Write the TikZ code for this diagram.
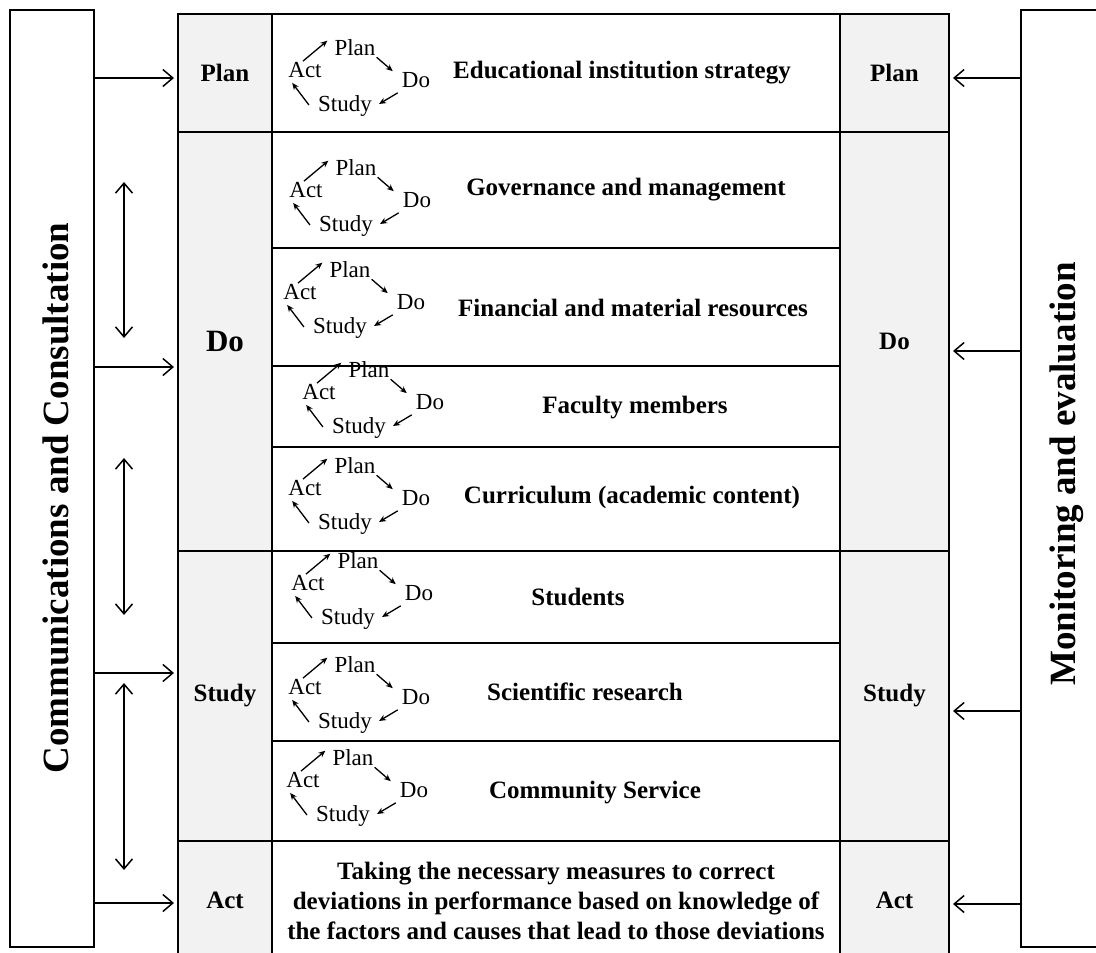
\documentclass[tikz,border=0pt]{standalone}
\usepackage{fontspec}
\setmainfont{Liberation Serif}
\usetikzlibrary{arrows.meta}
\definecolor{cellgray}{HTML}{F2F2F2}
\tikzset{
  sidebox/.style={
    draw,
    line width=1.4pt,
    minimum height=937pt,
    inner sep=0pt
  },
  sidetext/.style={
    rotate=90,
    inner sep=0pt,
    font=\fontsize{37}{37}\selectfont\bfseries
  },
  phasecell/.style={
    draw,
    fill=cellgray,
    line width=1.4pt,
    inner sep=0pt,
    font=\fontsize{25}{30}\selectfont\bfseries
  },
  phaseL/.style={phasecell, minimum width=94pt},
  phaseR/.style={phasecell, minimum width=109pt},
  areacell/.style={
    draw,
    line width=1.4pt,
    minimum width=568pt,
    inner sep=0pt
  },
  areatext/.style={
    inner sep=0pt,
    align=center,
    font=\fontsize{25}{30}\selectfont\bfseries
  },
  cyclbl/.style={
    inner sep=1pt,
    font=\fontsize{23}{23}\selectfont
  },
  cycarr/.style={
    -{Stealth[length=7pt,width=6pt]},
    line width=1.3pt
  },
  flowarr/.style={
    -{Straight Barb[length=10pt,width=17pt,line cap=butt]},
    line width=1.5pt
  },
  dblarr/.style={
    {Straight Barb[length=10pt,width=17pt]}-{Straight Barb[length=10pt,width=17pt]},
    line width=1.5pt
  }
}

% PDSA cycle, #1 = name prefix, (#2,#3) = centre of "Act"
\newcommand{\pdsacyc}[3]{%
  \begin{scope}[shift={(#2,#3)}]
    \node[cyclbl] (#1act) at (0,0) {Act};
    \node[cyclbl] (#1plan) at (50,-22) {Plan};
    \node[cyclbl] (#1do) at (111,10) {Do};
    \node[cyclbl] (#1study) at (40,36) {Study};
  \end{scope}
  \draw[cycarr] ([xshift=-2pt]#1act.north) -- ([xshift=-6pt,yshift=-2pt]#1plan.north west);
  \draw[cycarr] (#1plan.south east) -- ([xshift=-8pt]#1do.north west);
  \draw[cycarr] ([xshift=-3pt,yshift=-4pt]#1do.south west) -- ([xshift=6pt,yshift=2pt]#1study.east);
  \draw[cycarr] ([xshift=-8pt,yshift=1pt]#1study.west) -- ([xshift=5pt,yshift=-4pt]#1act.south west);
}

\begin{document}
\begin{tikzpicture}[x=1pt,y=-1pt]
  \useasboundingbox (0,0) rectangle (1096,953);

  % side boxes
  \node[sidebox, minimum width=84pt] (comm) at (52,478.5) {};
  \node[sidebox, minimum width=90pt] (moni) at (1066,478.5) {};
  \node[sidetext] (commtxt) at (56,498) {Communications and Consultation};
  \node[sidetext] (monitxt) at (1067,474) {Monitoring and evaluation};

  % phase columns
  \node[phaseL, minimum height=118pt] (planL) at (225,73) {Plan};
  \node[phaseL, minimum height=419pt, font=\fontsize{31}{31}\selectfont\bfseries] (doL) at (225,341.5) {Do};
  \node[phaseL, minimum height=290pt] (studyL) at (225,696) {Study};
  \node[phaseL, minimum height=119pt] (actL) at (225,900.5) {Act};

  \node[phaseR, minimum height=118pt] (planR) at (894.5,73) {Plan};
  \node[phaseR, minimum height=419pt] (doR) at (894.5,341.5) {Do};
  \node[phaseR, minimum height=290pt] (studyR) at (894.5,696) {Study};
  \node[phaseR, minimum height=119pt] (actR) at (894.5,900.5) {Act};

  % areas
  \node[areacell, minimum height=118pt] (r1) at (556,73) {};
  \node[areacell, minimum height=116pt] (r2) at (556,190) {};
  \node[areacell, minimum height=118pt] (r3) at (556,307) {};
  \node[areacell, minimum height=81pt] (r4) at (556,406.5) {};
  \node[areacell, minimum height=104pt] (r5) at (556,499) {};
  \node[areacell, minimum height=92pt] (r6) at (556,597) {};
  \node[areacell, minimum height=98pt] (r7) at (556,692) {};
  \node[areacell, minimum height=100pt] (r8) at (556,791) {};
  \node[areacell, minimum height=119pt, areatext] (r9) at (556,900.5)
    {Taking the necessary measures to correct\\
     deviations in performance based on knowledge of\\
     the factors and causes that lead to those deviations};

  \node[areatext] (t1) at (622,73) {Educational institution strategy};
  \node[areatext] (t2) at (626,190) {Governance and management};
  \node[areatext] (t3) at (633,308) {Financial and material resources};
  \node[areatext] (t4) at (635,408) {Faculty members};
  \node[areatext] (t5) at (632,497) {Curriculum (academic content)};
  \node[areatext] (t6) at (578,597) {Students};
  \node[areatext] (t7) at (585,692) {Scientific research};
  \node[areatext] (t8) at (595,793) {Community Service};

  \pdsacyc{c1}{305}{70}
  \pdsacyc{c2}{306}{190}
  \pdsacyc{c3}{300}{292}
  \pdsacyc{c4}{319}{392}
  \pdsacyc{c5}{305}{488}
  \pdsacyc{c6}{308}{583}
  \pdsacyc{c7}{305}{687}
  \pdsacyc{c8}{303}{780}

  % arrows in and out
  \coordinate (inPlan) at (174,78);
  \coordinate (inDo) at (174,367);
  \coordinate (inStudy) at (174,673);
  \coordinate (inAct) at (174,903);
  \draw[flowarr] (comm.east |- inPlan) -- (inPlan);
  \draw[flowarr] (comm.east |- inDo) -- (inDo);
  \draw[flowarr] (comm.east |- inStudy) -- (inStudy);
  \draw[flowarr] (comm.east |- inAct) -- (inAct);

  \coordinate (outPlan) at (953,78);
  \coordinate (outDo) at (953,351);
  \coordinate (outStudy) at (953,711);
  \coordinate (outAct) at (953,904);
  \draw[flowarr] (moni.west |- outPlan) -- (outPlan);
  \draw[flowarr] (moni.west |- outDo) -- (outDo);
  \draw[flowarr] (moni.west |- outStudy) -- (outStudy);
  \draw[flowarr] (moni.west |- outAct) -- (outAct);

  % two-way links
  \coordinate (lkA1) at (124,182);
  \coordinate (lkB1) at (124,338);
  \coordinate (lkA2) at (124,458);
  \coordinate (lkB2) at (124,615);
  \coordinate (lkA3) at (124,683);
  \coordinate (lkB3) at (124,870);
  \draw[dblarr] (lkA1) -- (lkB1);
  \draw[dblarr] (lkA2) -- (lkB2);
  \draw[dblarr] (lkA3) -- (lkB3);
\end{tikzpicture}
\end{document}
